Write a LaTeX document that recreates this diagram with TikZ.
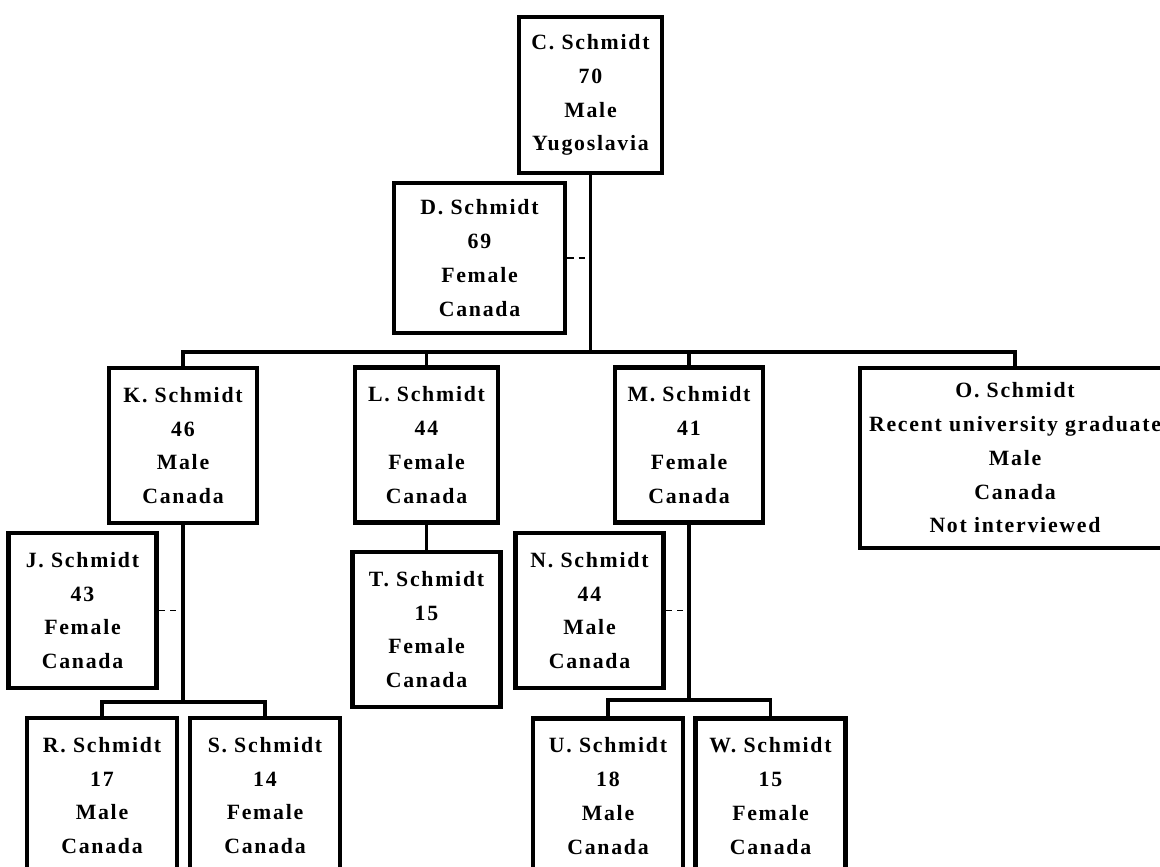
\documentclass[tikz,border=0pt]{standalone}
\usepackage{fontspec}
\setmainfont{Liberation Serif}[LetterSpace=8]

\tikzset{
  person/.style={draw, line width=3.2pt, align=center, inner sep=0pt,
    minimum width=3.7cm, minimum height=3.875cm,
    font=\fontsize{15.5}{24}\selectfont\bfseries},
  link/.style={line width=2.3pt},
  spouse/.style={line width=1.2pt, dash pattern=on 4.5pt off 3.5pt}
}

\begin{document}
\begin{tikzpicture}[x=0.025cm,y=-0.025cm]
\useasboundingbox (0,0) rectangle (1160,867);
\clip (0,0) rectangle (1160,867);

% grandparents
\node[person, minimum width=3.575cm, minimum height=3.9cm] (cs) at (590.5,95) {C. Schmidt\\70\\Male\\Yugoslavia};
\node[person, minimum width=4.275cm, minimum height=3.75cm] (ds) at (479.5,258) {D. Schmidt\\69\\Female\\Canada};

% children
\node[person] (ks) at (183,445.5) {K. Schmidt\\46\\Male\\Canada};
\node[person, minimum width=3.575cm] (ls) at (426.5,445) {L. Schmidt\\44\\Female\\Canada};
\node[person] (ms) at (689,445) {M. Schmidt\\41\\Female\\Canada};
\node[person, minimum width=7.75cm, minimum height=4.5cm] (os) at (1015,458) {O. Schmidt\\Recent university graduate\\Male\\Canada\\Not interviewed};

% spouses
\node[person] (js) at (82.5,610.5) {J. Schmidt\\43\\Female\\Canada};
\node[person] (ns) at (589.5,610.5) {N. Schmidt\\44\\Male\\Canada};

% grandchildren
\node[person] (ts) at (426.5,629.5) {T. Schmidt\\15\\Female\\Canada};
\node[person, minimum width=3.75cm] (rs) at (102,795.5) {R. Schmidt\\17\\Male\\Canada};
\node[person, minimum width=3.75cm] (ss) at (265,795.5) {S. Schmidt\\14\\Female\\Canada};
\node[person, minimum width=3.75cm] (us) at (608,796) {U. Schmidt\\18\\Male\\Canada};
\node[person, minimum width=3.75cm] (ws) at (770.5,796) {W. Schmidt\\15\\Female\\Canada};

% lines
\coordinate (bus) at (590.5,352);
\coordinate (kbus) at (183,702);
\coordinate (mbus) at (689,700);

\draw[link] (cs.south) -- (bus);
\draw[link] (ks.north) |- (os.north |- bus) -- (os.north);
\draw[link] (ls.north |- bus) -- (ls.north);
\draw[link] (ms.north |- bus) -- (ms.north);
\draw[spouse] (ds.east) -- (cs.south |- ds.east);

\draw[link] (ks.south) -- (kbus);
\draw[link] (rs.north) |- (kbus) -| (ss.north);
\draw[spouse] (js.east) -- (ks.south |- js.east);

\draw[link] (ls.south) -- (ts.north);

\draw[link] (ms.south) -- (mbus);
\draw[link] (us.north) |- (mbus) -| (ws.north);
\draw[spouse] (ns.east) -- (ms.south |- ns.east);
\end{tikzpicture}
\end{document}
